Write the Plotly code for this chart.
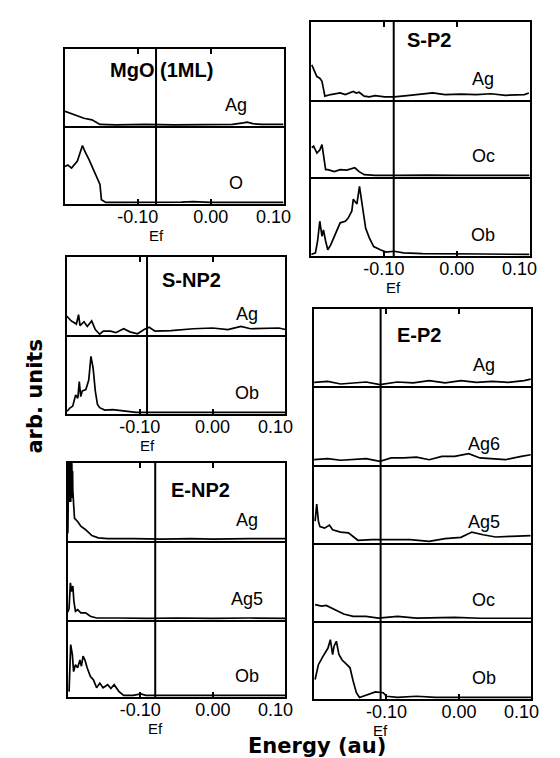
import plotly.graph_objects as go

# ---------------- DATA ----------------
X_RANGE = [-0.2, 0.1]
TICK_VALS = [-0.1, 0.0, 0.1]
TICK_TEXT = ["-0.10", "0.00", "0.10"]

PANEL_TITLES = ["MgO (1ML)", "S-P2", "S-NP2", "E-P2", "E-NP2"]
PANEL_LABELS = [["Ag", "O"], ["Ag", "Oc", "Ob"], ["Ag", "Ob"],
                ["Ag", "Ag6", "Ag5", "Oc", "Ob"], ["Ag", "Ag5", "Ob"]]
FERMI = [-0.075, -0.0865, -0.090, -0.108, -0.0795]

# MgO (1ML)
mgo_ag_x = [-0.200, -0.180, -0.174, -0.163, -0.152, -0.130, -0.090, -0.050, -0.010, 0.030, 0.045, 0.050, 0.058, 0.070, 0.100]
mgo_ag_y = [0.19, 0.12, 0.10, 0.08, 0.02, 0.015, 0.02, 0.015, 0.02, 0.02, 0.04, 0.05, 0.03, 0.02, 0.02]
mgo_o_x = [-0.200, -0.196, -0.191, -0.187, -0.183, -0.176, -0.173, -0.167, -0.161, -0.154, -0.152, -0.150, -0.144, -0.120, -0.080, -0.040, -0.024, 0.000, 0.050, 0.100]
mgo_o_y = [0.48, 0.50, 0.46, 0.50, 0.55, 0.75, 0.68, 0.57, 0.44, 0.29, 0.25, 0.055, 0.02, 0.02, 0.02, 0.025, 0.03, 0.02, 0.02, 0.02]

# S-P2
sp2_ag_x = [-0.199, -0.195, -0.192, -0.188, -0.185, -0.181, -0.173, -0.160, -0.153, -0.142, -0.138, -0.134, -0.127, -0.120, -0.112, -0.099, -0.086, -0.068, -0.051, -0.033, -0.016, 0.006, 0.027, 0.047, 0.067, 0.093, 0.099]
sp2_ag_y = [0.45, 0.37, 0.30, 0.28, 0.24, 0.05, 0.07, 0.09, 0.07, 0.11, 0.09, 0.10, 0.05, 0.04, 0.055, 0.04, 0.04, 0.055, 0.07, 0.09, 0.07, 0.075, 0.07, 0.08, 0.06, 0.07, 0.09]
sp2_oc_x = [-0.199, -0.1965, -0.192, -0.188, -0.185, -0.182, -0.180, -0.177, -0.168, -0.160, -0.151, -0.140, -0.134, -0.127, -0.112, -0.080, -0.040, 0.000, 0.040, 0.100]
sp2_oc_y = [0.38, 0.40, 0.31, 0.35, 0.42, 0.22, 0.095, 0.095, 0.07, 0.095, 0.09, 0.12, 0.07, 0.03, 0.02, 0.02, 0.025, 0.02, 0.02, 0.02]
sp2_ob_x = [-0.1996, -0.194, -0.191, -0.188, -0.185, -0.183, -0.180, -0.177, -0.173, -0.168, -0.164, -0.160, -0.153, -0.149, -0.144, -0.142, -0.139, -0.137, -0.1335, -0.131, -0.128, -0.125, -0.120, -0.114, -0.105, -0.097, -0.086, -0.073, -0.047, 0.000, 0.036, 0.100]
sp2_ob_y = [0.02, 0.04, 0.19, 0.44, 0.25, 0.33, 0.19, 0.08, 0.14, 0.25, 0.35, 0.42, 0.44, 0.48, 0.57, 0.72, 0.68, 0.66, 0.88, 0.73, 0.50, 0.35, 0.23, 0.12, 0.08, 0.05, 0.06, 0.04, 0.03, 0.03, 0.025, 0.02]

# S-NP2
snp2_ag_x = [-0.200, -0.194, -0.187, -0.184, -0.182, -0.1765, -0.172, -0.166, -0.161, -0.155, -0.150, -0.140, -0.133, -0.122, -0.1135, -0.103, -0.094, -0.087, -0.079, -0.057, -0.0265, 0.000, 0.021, 0.039, 0.052, 0.0735, 0.091, 0.100]
snp2_ag_y = [0.24, 0.18, 0.14, 0.26, 0.12, 0.17, 0.11, 0.18, 0.07, 0.01, 0.05, 0.05, 0.03, 0.08, 0.04, 0.015, 0.07, 0.10, 0.05, 0.055, 0.08, 0.09, 0.07, 0.11, 0.08, 0.09, 0.09, 0.07]
snp2_ob_x = [-0.1996, -0.196, -0.192, -0.188, -0.185, -0.183, -0.181, -0.179, -0.174, -0.172, -0.170, -0.167, -0.164, -0.161, -0.158, -0.155, -0.148, -0.137, -0.122, -0.105, -0.070, -0.030, 0.020, 0.060, 0.100]
snp2_ob_y = [0.035, 0.075, 0.10, 0.24, 0.20, 0.41, 0.22, 0.29, 0.31, 0.37, 0.43, 0.73, 0.58, 0.29, 0.12, 0.08, 0.05, 0.055, 0.035, 0.02, 0.02, 0.02, 0.025, 0.02, 0.02]

# E-P2
ep2_ag_x = [-0.1996, -0.181, -0.163, -0.146, -0.128, -0.109, -0.085, -0.063, -0.041, -0.019, 0.003, 0.024, 0.046, 0.068, 0.090, 0.099]
ep2_ag_y = [0.048, 0.06, 0.026, 0.04, 0.052, 0.017, 0.052, 0.04, 0.069, 0.04, 0.069, 0.048, 0.06, 0.048, 0.069, 0.09]
ep2_ag6_x = [-0.1996, -0.181, -0.163, -0.146, -0.128, -0.109, -0.0935, -0.076, -0.0585, -0.041, -0.0235, -0.006, 0.0135, 0.029, 0.046, 0.064, 0.086, 0.099]
ep2_ag6_y = [0.067, 0.08, 0.06, 0.067, 0.08, 0.047, 0.089, 0.089, 0.10, 0.067, 0.11, 0.11, 0.143, 0.089, 0.08, 0.067, 0.11, 0.13]
ep2_ag5_x = [-0.1983, -0.1961, -0.1938, -0.1917, -0.1852, -0.1786, -0.1742, -0.1633, -0.1524, -0.1459, -0.1393, -0.1197, -0.0935, -0.0673, -0.0411, -0.0192, 0.0027, 0.0179, 0.0332, 0.0506, 0.0725, 0.0899, 0.0987]
ep2_ag5_y = [0.28, 0.50, 0.28, 0.21, 0.19, 0.23, 0.17, 0.14, 0.13, 0.086, 0.035, 0.042, 0.042, 0.042, 0.022, 0.055, 0.073, 0.14, 0.106, 0.077, 0.086, 0.094, 0.094]
ep2_oc_x = [-0.1983, -0.1895, -0.1830, -0.1764, -0.1676, -0.1590, -0.1459, -0.1283, -0.1109, -0.0847, -0.0585, -0.0323, -0.0061, 0.030, 0.070, 0.100]
ep2_oc_y = [0.21, 0.19, 0.20, 0.17, 0.12, 0.09, 0.06, 0.06, 0.038, 0.06, 0.038, 0.038, 0.047, 0.035, 0.035, 0.035]
ep2_ob_x = [-0.1983, -0.1938, -0.1873, -0.1807, -0.1773, -0.1742, -0.1721, -0.1690, -0.1655, -0.1611, -0.1545, -0.1502, -0.1459, -0.1414, -0.1371, -0.1283, -0.1152, -0.1044, -0.0999, -0.0847, -0.0585, -0.0323, 0.000, 0.050, 0.100]
ep2_ob_y = [0.25, 0.44, 0.55, 0.65, 0.76, 0.57, 0.68, 0.74, 0.57, 0.50, 0.44, 0.40, 0.23, 0.08, 0.02, 0.047, 0.09, 0.08, 0.035, 0.02, 0.035, 0.02, 0.02, 0.02, 0.02]

# E-NP2
enp2_ag_x = [-0.200, -0.1995, -0.1990, -0.1985, -0.1980, -0.1975, -0.1970, -0.1965, -0.1960, -0.1955, -0.1950, -0.1945, -0.1940, -0.1935, -0.1931, -0.1917, -0.1908, -0.1865, -0.1821, -0.1755, -0.1669, -0.1581, -0.1450, -0.110, -0.070, -0.030, 0.000, 0.050, 0.100]
enp2_ag_y = [0.10, 1.10, 0.40, 1.20, 0.50, 1.15, 0.55, 1.10, 0.50, 1.05, 0.60, 1.00, 0.55, 0.90, 0.64, 0.42, 0.29, 0.25, 0.19, 0.145, 0.07, 0.04, 0.03, 0.03, 0.025, 0.03, 0.025, 0.03, 0.03]
enp2_ag5_x = [-0.200, -0.1983, -0.1965, -0.1948, -0.1931, -0.1917, -0.1895, -0.1865, -0.1821, -0.1755, -0.1690, -0.1603, -0.130, -0.090, -0.050, 0.000, 0.050, 0.100]
enp2_ag5_y = [0.10, 0.15, 0.47, 0.36, 0.43, 0.24, 0.11, 0.13, 0.09, 0.09, 0.047, 0.025, 0.025, 0.02, 0.025, 0.02, 0.025, 0.02]
enp2_ob_x = [-0.1983, -0.1961, -0.1938, -0.1921, -0.1895, -0.1865, -0.1834, -0.1813, -0.1790, -0.1764, -0.1734, -0.1690, -0.1646, -0.1603, -0.1559, -0.1515, -0.1450, -0.1407, -0.1362, -0.1297, -0.1231, -0.1100, -0.0991, -0.0926, -0.060, -0.020, 0.030, 0.070, 0.100]
enp2_ob_y = [0.07, 0.68, 0.55, 0.33, 0.42, 0.38, 0.48, 0.40, 0.53, 0.48, 0.38, 0.27, 0.22, 0.12, 0.18, 0.12, 0.16, 0.11, 0.16, 0.074, 0.022, 0.022, 0.04, 0.022, 0.02, 0.02, 0.025, 0.02, 0.02]

SERIES = [
    [(mgo_ag_x, mgo_ag_y), (mgo_o_x, mgo_o_y)],
    [(sp2_ag_x, sp2_ag_y), (sp2_oc_x, sp2_oc_y), (sp2_ob_x, sp2_ob_y)],
    [(snp2_ag_x, snp2_ag_y), (snp2_ob_x, snp2_ob_y)],
    [(ep2_ag_x, ep2_ag_y), (ep2_ag6_x, ep2_ag6_y), (ep2_ag5_x, ep2_ag5_y), (ep2_oc_x, ep2_oc_y), (ep2_ob_x, ep2_ob_y)],
    [(enp2_ag_x, enp2_ag_y), (enp2_ag5_x, enp2_ag5_y), (enp2_ob_x, enp2_ob_y)],
]

# ---------------- LAYOUT (pixel geometry) ----------------
W, H = 560, 758
GEOM = [
    dict(left=60, right=290, rows=[41, 118, 196], title_dx=102, title_dy=21, lab_dx=180),
    dict(left=319, right=549, rows=[14, 92, 169, 248], title_dx=124, title_dy=18, lab_dx=181),
    dict(left=62, right=292, rows=[249, 327, 406], title_dx=131, title_dy=23, lab_dx=190),
    dict(left=322, right=551, rows=[301, 378, 457, 535, 613, 691], title_dx=111, title_dy=26, lab_dx=179),
    dict(left=63, right=292, rows=[455, 533, 612, 689], title_dx=140, title_dy=27, lab_dx=189),
]
NBSP_PAD = "\u00a0" * 4  # keeps the last tick label inside the frame, as in the original

def px(x):
    return x / W

def py(y):
    return 1 - y / H

LABEL_FONT = dict(family="Liberation Sans, Arial, sans-serif", size=18, color="black")
TITLE_FONT = dict(family="Liberation Sans, Arial, sans-serif", size=20, color="black", weight="bold")
BIG_FONT = dict(family="DejaVu Sans, sans-serif", size=21, color="black", weight="bold")
EF_FONT = dict(family="Liberation Sans, Arial, sans-serif", size=15, color="black")

tick_text_shown = TICK_TEXT[:-1] + [TICK_TEXT[-1] + NBSP_PAD]

fig = go.Figure()
layout = {}
shapes = []
annotations = []
k = 0
for g, geom in enumerate(GEOM):
    rows = geom["rows"]
    n = len(rows) - 1
    for i in range(n):
        k += 1
        xs, ys = SERIES[g][i]
        xname = "x" if k == 1 else f"x{k}"
        yname = "y" if k == 1 else f"y{k}"
        fig.add_trace(go.Scatter(x=xs, y=ys, mode="lines", xaxis=xname, yaxis=yname,
                                 line=dict(color="black", width=1.7), showlegend=False,
                                 hoverinfo="skip"))
        xa = dict(domain=[px(geom["left"]), px(geom["right"])], range=X_RANGE, anchor=yname,
                  showgrid=False, zeroline=False, showline=True,
                  linecolor="black", linewidth=2, fixedrange=True)
        if i == 0:
            xa.update(side="top", mirror=True, ticks="inside", ticklen=5, tickwidth=1.5,
                      tickcolor="black", tickvals=TICK_VALS[:2], showticklabels=False)
        else:
            xa.update(side="bottom", mirror=False, ticks="", showticklabels=False)
        if i == n - 1:
            xa.update(side="bottom", ticks="inside", ticklen=5, tickwidth=1.5, tickcolor="black",
                      tickvals=TICK_VALS, ticktext=tick_text_shown, tickfont=LABEL_FONT,
                      showticklabels=True, ticklabelstandoff=-5)
        ya = dict(domain=[py(rows[i + 1]), py(rows[i])], range=[0, 1], anchor=xname,
                  showgrid=False, zeroline=False, showline=True, mirror=True,
                  linecolor="black", linewidth=2, ticks="", showticklabels=False, fixedrange=True)
        layout["xaxis" if k == 1 else f"xaxis{k}"] = xa
        layout["yaxis" if k == 1 else f"yaxis{k}"] = ya
        annotations.append(dict(text=PANEL_LABELS[g][i], xref="paper", yref="paper",
                                x=px(geom["left"] + geom["lab_dx"]), y=py(rows[i + 1] - 21),
                                xanchor="center", yanchor="middle", showarrow=False,
                                font=LABEL_FONT))
    bottom_x = "x" if k == 1 else f"x{k}"
    shapes.append(dict(type="line", xref=bottom_x, yref="paper", x0=FERMI[g], x1=FERMI[g],
                       y0=py(rows[-1]), y1=py(rows[0]), line=dict(color="black", width=2)))
    annotations.append(dict(text="Ef", xref=bottom_x, yref="paper", x=FERMI[g],
                            y=py(rows[-1] + 31), xanchor="center", yanchor="middle",
                            showarrow=False, font=EF_FONT))
    annotations.append(dict(text=PANEL_TITLES[g], xref="paper", yref="paper",
                            x=px(geom["left"] + geom["title_dx"]), y=py(rows[0] + geom["title_dy"]),
                            xanchor="center", yanchor="middle", showarrow=False, font=TITLE_FONT))

annotations.append(dict(text="Energy (au)", xref="paper", yref="paper", x=px(325), y=py(738),
                        xanchor="center", yanchor="middle", showarrow=False, font=BIG_FONT))
annotations.append(dict(text="arb. units", xref="paper", yref="paper", x=px(28), y=py(388),
                        xanchor="center", yanchor="middle", showarrow=False, textangle=-90,
                        font=BIG_FONT))

fig.update_layout(width=W, height=H, margin=dict(l=0, r=0, t=0, b=0, pad=0),
                  paper_bgcolor="white", plot_bgcolor="white",
                  shapes=shapes, annotations=annotations, **layout)
fig.write_html("out.html")
